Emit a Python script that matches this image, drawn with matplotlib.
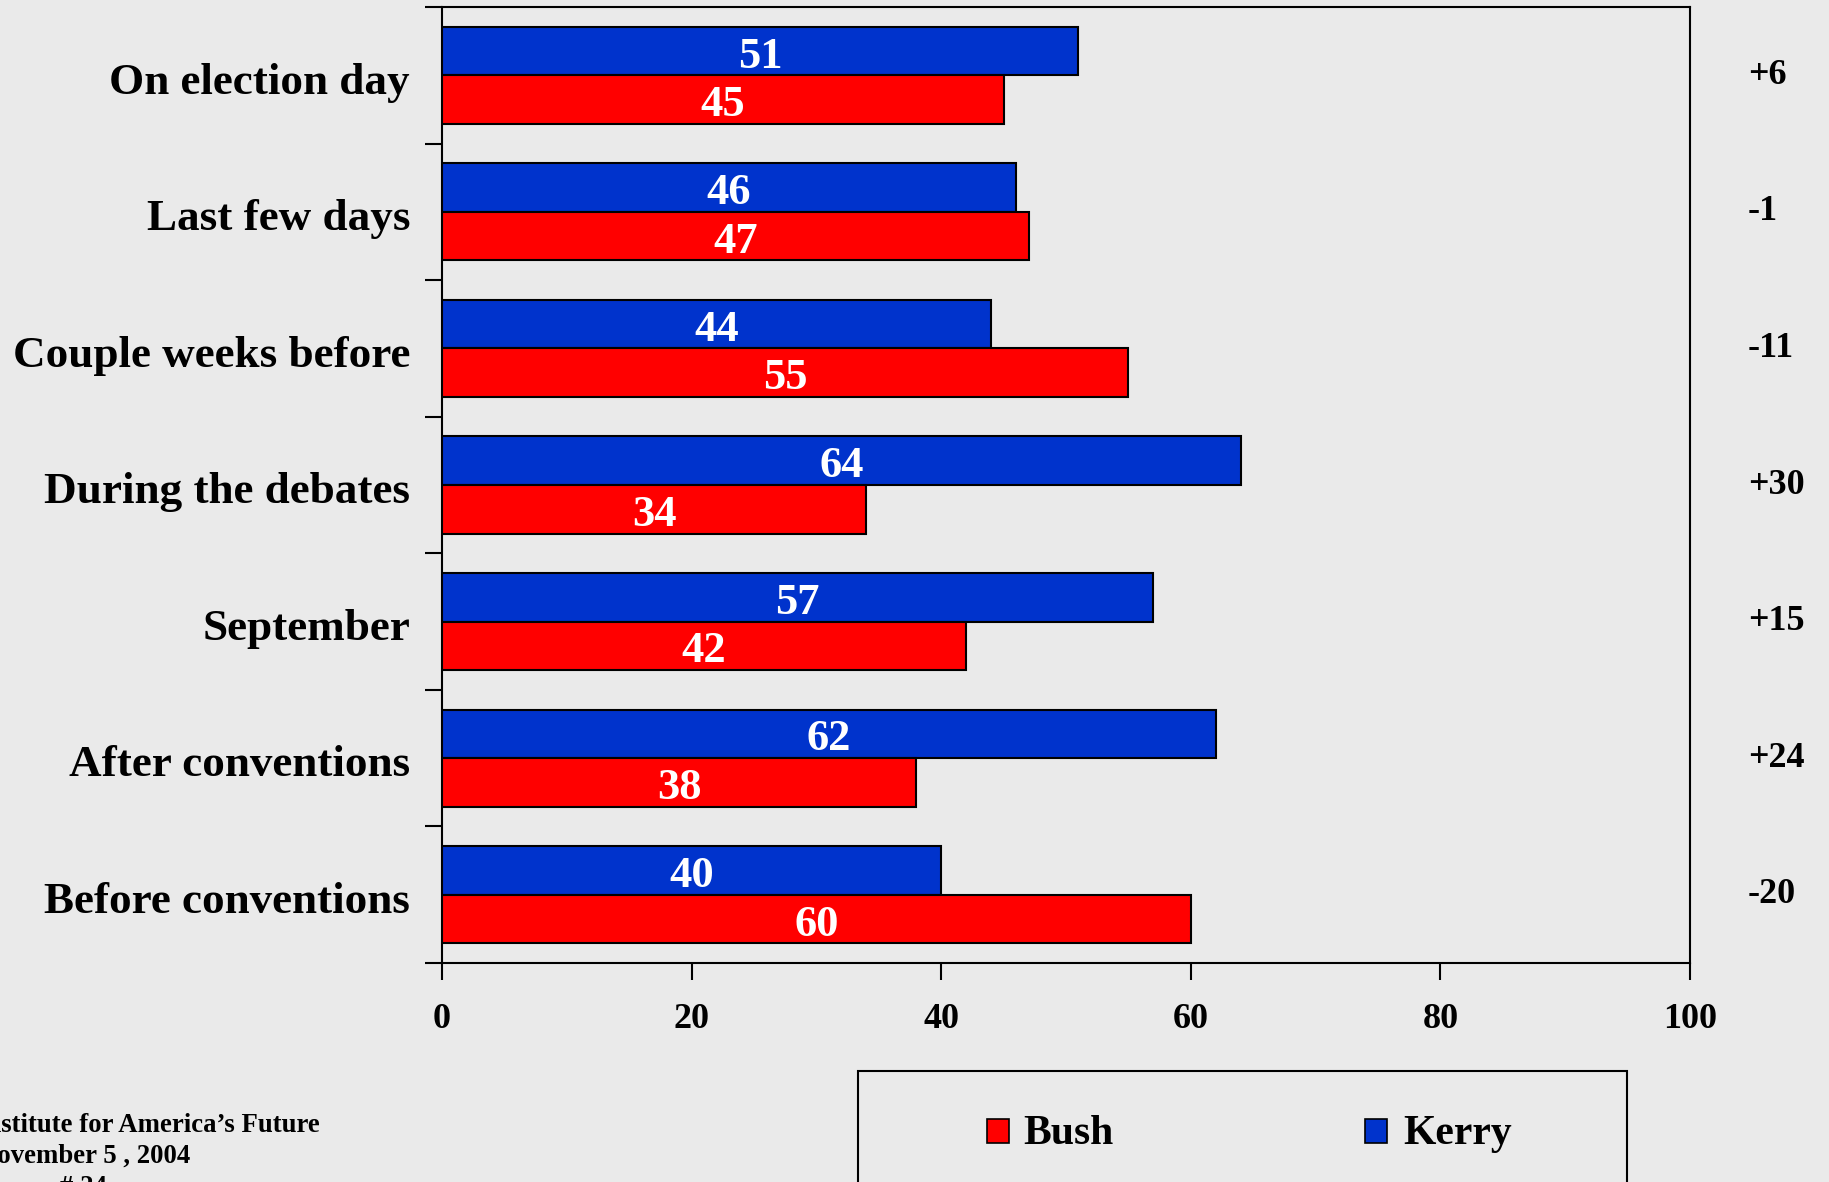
import matplotlib
matplotlib.use("Agg")
import matplotlib.pyplot as plt
import matplotlib.transforms as mtransforms
from matplotlib.patches import Rectangle
import numpy as np

categories = ["On election day", "Last few days", "Couple weeks before",
              "During the debates", "September", "After conventions",
              "Before conventions"]
kerry = [51, 46, 44, 64, 57, 62, 40]
bush = [45, 47, 55, 34, 42, 38, 60]
xticks = [0, 20, 40, 60, 80, 100]
footer = ["Institute for America\u2019s Future", "November 5 , 2004"]
footer_page = "# 24"

BG = "#EAEAEA"
KERRY_C = "#0033CC"
BUSH_C = "#FF0000"
FONT = "Liberation Serif"

plt.rcParams["font.family"] = [FONT, "DejaVu Serif"]
plt.rcParams["font.weight"] = "bold"

W, H = 1829, 1182
fig = plt.figure(figsize=(W / 100, H / 100), dpi=100, facecolor=BG)
ax = fig.add_axes([442 / W, 1 - 963 / H, (1690 - 442) / W, (963 - 7) / H])
ax.set_facecolor(BG)

y = np.arange(len(categories))
bh = 0.356
off = bh / 2
ax.barh(y - off, kerry, height=bh, color=KERRY_C, edgecolor="black", linewidth=1.5, zorder=3)
ax.barh(y + off, bush, height=bh, color=BUSH_C, edgecolor="black", linewidth=1.5, zorder=3)

down = mtransforms.offset_copy(ax.transData, fig=fig, x=0, y=-4, units="points")
for yi, v in zip(y - off, kerry):
    ax.text(v / 2, yi, str(v), ha="center", va="center", color="white",
            fontsize=32, fontweight="bold", zorder=4, transform=down)
for yi, v in zip(y + off, bush):
    ax.text(v / 2, yi, str(v), ha="center", va="center", color="white",
            fontsize=32, fontweight="bold", zorder=4, transform=down)

ax.set_xlim(0, 100)
ax.set_ylim(len(categories) - 0.5, -0.5)

ax.set_xticks(xticks)
ax.set_xticklabels([str(t) for t in xticks], fontsize=26, fontweight="bold")
ax.tick_params(axis="x", direction="out", length=12, width=1.5, pad=17)

ax.set_yticks(y)
ax.set_yticklabels(categories, fontsize=32.5, fontweight="bold")
ax.tick_params(axis="y", which="major", length=0, pad=23)
for lab in ax.get_yticklabels():
    lab.set_transform(lab.get_transform() + mtransforms.ScaledTranslation(0, -2 / 72, fig.dpi_scale_trans))
ax.set_yticks(np.arange(len(categories) + 1) - 0.5, minor=True)
ax.tick_params(axis="y", which="minor", direction="out", length=12, width=1.5)

for s in ax.spines.values():
    s.set_linewidth(1.5)
    s.set_color("black")

# differences on the right
trans = mtransforms.blended_transform_factory(fig.transFigure, ax.transData)
for yi, k, b in zip(y, kerry, bush):
    d = k - b
    ax.text(1748 / W, yi, f"{d:+d}", transform=trans, ha="left", va="center",
            fontsize=26, fontweight="bold", clip_on=False)

# legend box
fig.patches.append(Rectangle((858 / W, -0.05), (1627 - 858) / W, 0.05 + 1 - 1071 / H,
                             transform=fig.transFigure, facecolor="none",
                             edgecolor="black", linewidth=1.5))
ly = 1 - 1131 / H
for (x0, xt, lab, col) in [(987, 1023, "Bush", BUSH_C), (1365, 1403, "Kerry", KERRY_C)]:
    fig.patches.append(Rectangle((x0 / W, ly - 12 / H), 22 / W, 24 / H,
                                 transform=fig.transFigure, facecolor=col,
                                 edgecolor="black", linewidth=1.2))
    fig.text(xt / W, 1 - 1134 / H, lab, ha="left", va="center", fontsize=30, fontweight="bold")

# footer (cut off at the figure edge, as in the original slide)
fig.text(-24 / W, 1 - 1132 / H, footer[0], ha="left", va="baseline", fontsize=19.3, fontweight="bold")
fig.text(-22 / W, 1 - 1163 / H, footer[1], ha="left", va="baseline", fontsize=19.3, fontweight="bold")
fig.text(60 / W, 1 - 1194 / H, footer_page, ha="left", va="baseline", fontsize=19.3, fontweight="bold")

fig.savefig("out.png", dpi=100, facecolor=BG)
